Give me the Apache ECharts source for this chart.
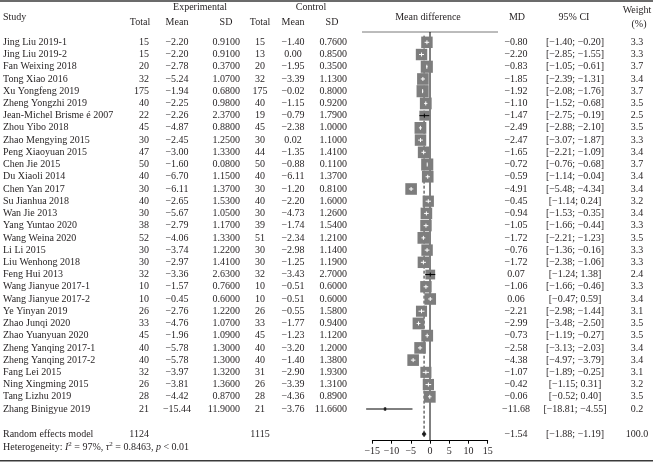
<!DOCTYPE html>
<html><head><meta charset="utf-8">
<script src="https://cdn.jsdelivr.net/npm/echarts@6/dist/echarts.min.js"></script>
<style>html,body{margin:0;padding:0;background:#fff}#c{width:653px;height:462px}</style>
</head><body><div id="c"></div>
<script>
// ---------- data ----------
const studies = ['Jing Liu 2019-1','Jing Liu 2019-2','Fan Weixing 2018','Tong Xiao 2016','Xu Yongfeng 2019','Zheng Yongzhi 2019','Jean-Michel Brisme é 2007','Zhou Yibo 2018','Zhao Mengying 2015','Peng Xiaoyuan 2015','Chen Jie 2015','Du Xiaoli 2014','Chen Yan 2017','Su Jianhua 2018','Wan Jie 2013','Yang Yuntao 2020','Wang Weina 2020','Li Li 2015','Liu Wenhong 2018','Feng Hui 2013','Wang Jianyue 2017-1','Wang Jianyue 2017-2','Ye Yinyan 2019','Zhao Junqi 2020','Zhao Yuanyuan 2020','Zheng Yanqing 2017-1','Zheng Yanqing 2017-2','Fang Lei 2015','Ning Xingming 2015','Tang Lizhu 2019','Zhang Binigyue 2019'];
const expTotal = [15,15,20,32,175,40,22,45,30,47,50,40,30,40,30,38,52,30,30,32,10,10,26,33,45,40,40,32,26,28,21];
const expMean = [-2.20,-2.20,-2.78,-5.24,-1.94,-2.25,-2.26,-4.87,-2.45,-3.00,-1.60,-6.70,-6.11,-2.65,-5.67,-2.79,-4.06,-3.74,-2.97,-3.36,-1.57,-0.45,-2.76,-4.76,-1.96,-5.78,-5.78,-3.97,-3.81,-4.42,-15.44];
const expSD = [0.91,0.91,0.37,1.07,0.68,0.98,2.37,0.88,1.25,1.33,0.08,1.15,1.37,1.53,1.05,1.17,1.33,1.22,1.41,2.63,0.76,0.60,1.22,1.07,1.09,1.30,1.30,1.32,1.36,0.87,11.90];
const ctlTotal = [15,13,20,32,175,40,19,45,30,44,50,40,30,40,30,39,51,30,30,32,10,10,26,33,45,40,40,31,26,28,21];
const ctlMean = [-1.40,0.00,-1.95,-3.39,-0.02,-1.15,-0.79,-2.38,0.02,-1.35,-0.88,-6.11,-1.20,-2.20,-4.73,-1.74,-2.34,-2.98,-1.25,-3.43,-0.51,-0.51,-0.55,-1.77,-1.23,-3.20,-1.40,-2.90,-3.39,-4.36,-3.76];
const ctlSD = [0.76,0.85,0.35,1.13,0.80,0.92,1.79,1.00,1.10,1.41,0.11,1.37,0.81,1.60,1.26,1.54,1.21,1.14,1.19,2.70,0.60,0.60,1.58,0.94,1.12,1.20,1.38,1.93,1.31,0.89,11.66];
const md = [-0.80,-2.20,-0.83,-1.85,-1.92,-1.10,-1.47,-2.49,-2.47,-1.65,-0.72,-0.59,-4.91,-0.45,-0.94,-1.05,-1.72,-0.76,-1.72,0.07,-1.06,0.06,-2.21,-2.99,-0.73,-2.58,-4.38,-1.07,-0.42,-0.06,-11.68];
const ciLo = [-1.40,-2.85,-1.05,-2.39,-2.08,-1.52,-2.75,-2.88,-3.07,-2.21,-0.76,-1.14,-5.48,-1.14,-1.53,-1.66,-2.21,-1.36,-2.38,-1.24,-1.66,-0.47,-2.98,-3.48,-1.19,-3.13,-4.97,-1.89,-1.15,-0.52,-18.81];
const ciHi = [-0.20,-1.55,-0.61,-1.31,-1.76,-0.68,-0.19,-2.10,-1.87,-1.09,-0.68,-0.04,-4.34,0.24,-0.35,-0.44,-1.23,-0.16,-1.06,1.38,-0.46,0.59,-1.44,-2.50,-0.27,-2.03,-3.79,-0.25,0.31,0.40,-4.55];
const weight = [3.3,3.3,3.7,3.4,3.7,3.5,2.5,3.5,3.3,3.4,3.7,3.4,3.4,3.2,3.4,3.3,3.5,3.3,3.3,2.4,3.3,3.4,3.1,3.5,3.5,3.4,3.4,3.1,3.2,3.5,0.2];
const pooledTotals = [1124, 1115];
const pooled = [-1.54, -1.88, -1.19, 100.0]; // MD, lower, upper, weight
const hetero = ['97%', '0.8463', '< 0.01'];
const xTicks = [-15, -10, -5, 0, 5, 10, 15];

// ---------- helpers ----------
const FONT = '"Liberation Serif", "DejaVu Serif", serif';
const TXT = '#231f20';
const f = (v, d) => (v < 0 ? '\u2212' : '') + Math.abs(v).toFixed(d);
const ci = (a, b) => '[' + f(a, 2) + '; ' + f(b, 2) + ']';
const ROW_MIN = -0.843, ROW_MAX = 32.593;
const POOL_ROW = 32.05, HET_ROW = 33.12;
const CLIP_LO = -16.6;

const chart = echarts.init(document.getElementById('c'), null, {renderer: 'canvas'});

function txt(x, y, text, align, extra) {
  return Object.assign({type: 'text', x: x, y: y, style: {text: text, font: '10px ' + FONT, fill: TXT, align: align, verticalAlign: 'middle'}}, extra || {});
}

const tableSeries = {
  type: 'custom', coordinateSystem: 'cartesian2d', z: 5, silent: true,
  data: studies.map((s, i) => [0, i]),
  encode: {x: 0, y: 1},
  renderItem: function (params, api) {
    const i = params.dataIndex;
    const y = api.coord([0, i])[1];
    return {type: 'group', children: [
      txt(3, y, studies[i], 'left'),
      txt(149, y, String(expTotal[i]), 'right'),
      txt(177, y, f(expMean[i], 2), 'center'),
      txt(240, y, expSD[i].toFixed(4), 'right'),
      txt(260, y, String(ctlTotal[i]), 'center'),
      txt(293, y, f(ctlMean[i], 2), 'center'),
      txt(347, y, ctlSD[i].toFixed(4), 'right'),
      txt(516, y, f(md[i], 2), 'center'),
      txt(575, y, ci(ciLo[i], ciHi[i]), 'center'),
      txt(637, y, weight[i].toFixed(1), 'center')
    ]};
  }
};

const pooledText = {
  type: 'custom', coordinateSystem: 'cartesian2d', z: 5, silent: true,
  data: [[0, POOL_ROW]], encode: {x: 0, y: 1},
  renderItem: function (params, api) {
    const y = api.coord([0, POOL_ROW])[1];
    const y2 = api.coord([0, HET_ROW])[1];
    const base = {font: '10px ' + FONT, fill: TXT};
    return {type: 'group', children: [
      txt(3, y, 'Random effects model', 'left'),
      txt(149, y, String(pooledTotals[0]), 'right'),
      txt(260, y, String(pooledTotals[1]), 'center'),
      txt(516, y, f(pooled[0], 2), 'center'),
      txt(575, y, ci(pooled[1], pooled[2]), 'center'),
      txt(637, y, pooled[3].toFixed(1), 'center'),
      {type: 'text', x: 3, y: y2, style: {
        text: '{a|Heterogeneity: }{i|I}{s|2}{a| = ' + hetero[0] + ', }{i|\u03c4}{s|2}{a| = ' + hetero[1] + ', }{i|p}{a| ' + hetero[2] + '}',
        align: 'left', verticalAlign: 'middle',
        rich: {
          a: Object.assign({}, base, {lineHeight: 12}),
          i: {font: 'italic 10px ' + FONT, fill: TXT, lineHeight: 12},
          s: {font: '7px ' + FONT, fill: TXT, lineHeight: 12, verticalAlign: 'top'}
        }
      }}
    ]};
  }
};

const forestSeries = {
  type: 'custom', coordinateSystem: 'cartesian2d', z: 3, silent: true,
  data: studies.map((s, i) => [md[i], i]), encode: {x: 0, y: 1},
  renderItem: function (params, api) {
    const i = params.dataIndex;
    const p = api.coord([md[i], i]);
    const xm = p[0], y = p[1];
    const xl = api.coord([Math.max(ciLo[i], CLIP_LO), i])[0];
    const xh = api.coord([ciHi[i], i])[0];
    const side = 6.3 * Math.sqrt(weight[i]);
    const inside = (xh - xl) < side * 0.85;
    const c = inside ? '#ffffff' : '#000000';
    return {type: 'group', children: [
      {type: 'rect', shape: {x: xm - side / 2, y: y - side / 2, width: side, height: side}, style: {fill: '#7d7d7d'}},
      {type: 'line', shape: {x1: xl, y1: y, x2: xh, y2: y}, style: {stroke: c, lineWidth: 1}},
      {type: 'line', shape: {x1: xm, y1: y - 2, x2: xm, y2: y + 2}, style: {stroke: c, lineWidth: 1}}
    ]};
  }
};

const diamondSeries = {
  type: 'custom', coordinateSystem: 'cartesian2d', z: 4, silent: true,
  data: [[pooled[0], POOL_ROW]], encode: {x: 0, y: 1},
  renderItem: function (params, api) {
    const p = api.coord([pooled[0], POOL_ROW]);
    const xl = api.coord([pooled[1], POOL_ROW])[0];
    const xh = api.coord([pooled[2], POOL_ROW])[0];
    const h = 2.6;
    return {type: 'polygon', shape: {points: [[xl - 0.6, p[1]], [p[0], p[1] - h], [xh + 0.6, p[1]], [p[0], p[1] + h]]}, style: {fill: '#1a1a1a', stroke: '#1a1a1a', lineWidth: 0.8}};
  }
};

const zeroLine = {
  type: 'line', z: 1, silent: true, symbol: 'none', animation: false,
  data: [[0, ROW_MIN], [0, ROW_MAX]],
  lineStyle: {color: '#000', width: 1}
};
const pooledLine = {
  type: 'line', z: 1, silent: true, symbol: 'none', animation: false,
  data: [[pooled[0], ROW_MIN + 0.3], [pooled[0], POOL_ROW - 0.2]],
  lineStyle: {color: '#222', width: 1, type: [3, 2]}
};

const hdr = (x, y, text, align) => ({type: 'text', x: x, y: y, silent: true, style: {text: text, font: '10px ' + FONT, fill: TXT, align: align || 'center', verticalAlign: 'middle'}});

chart.setOption({
  animation: false,
  backgroundColor: '#fff',
  grid: {left: 372.3, width: 115.4, top: 32, height: 408.7, containLabel: false},
  xAxis: {
    type: 'value', position: 'bottom', min: xTicks[0], max: xTicks[xTicks.length - 1], interval: 5,
    axisLine: {show: true, onZero: false, lineStyle: {color: '#000', width: 1}},
    axisTick: {show: true, length: 3, lineStyle: {color: '#000'}},
    axisLabel: {margin: 6, fontFamily: FONT, fontSize: 10, color: TXT, formatter: v => String(v).replace('-', '\u2212')},
    splitLine: {show: false}
  },
  yAxis: {type: 'value', inverse: true, min: ROW_MIN, max: ROW_MAX, show: false, splitLine: {show: false}},
  series: [zeroLine, pooledLine, forestSeries, diamondSeries, tableSeries, pooledText],
  graphic: [
    {type: 'line', silent: true, shape: {x1: 0, y1: 1, x2: 653, y2: 1}, style: {stroke: '#3a3a3a', lineWidth: 1.6}},
    {type: 'line', silent: true, shape: {x1: 0, y1: 460.8, x2: 653, y2: 460.8}, style: {stroke: '#3a3a3a', lineWidth: 1.6}},
    {type: 'line', silent: true, shape: {x1: 362, y1: 32, x2: 498, y2: 32}, style: {stroke: '#555', lineWidth: 0.8}},
    hdr(200, 7.5, 'Experimental'),
    hdr(311, 7.5, 'Control'),
    hdr(3, 17, 'Study', 'left'),
    hdr(140, 22.5, 'Total'),
    hdr(177, 22.5, 'Mean'),
    hdr(226, 22.5, 'SD'),
    hdr(260, 22.5, 'Total'),
    hdr(293, 22.5, 'Mean'),
    hdr(332, 22.5, 'SD'),
    hdr(428, 17, 'Mean difference'),
    hdr(517, 17, 'MD'),
    hdr(574, 17, '95% CI'),
    hdr(637, 10, 'Weight'),
    hdr(639, 24, '(%)')
  ]
});
</script>
</body></html>
